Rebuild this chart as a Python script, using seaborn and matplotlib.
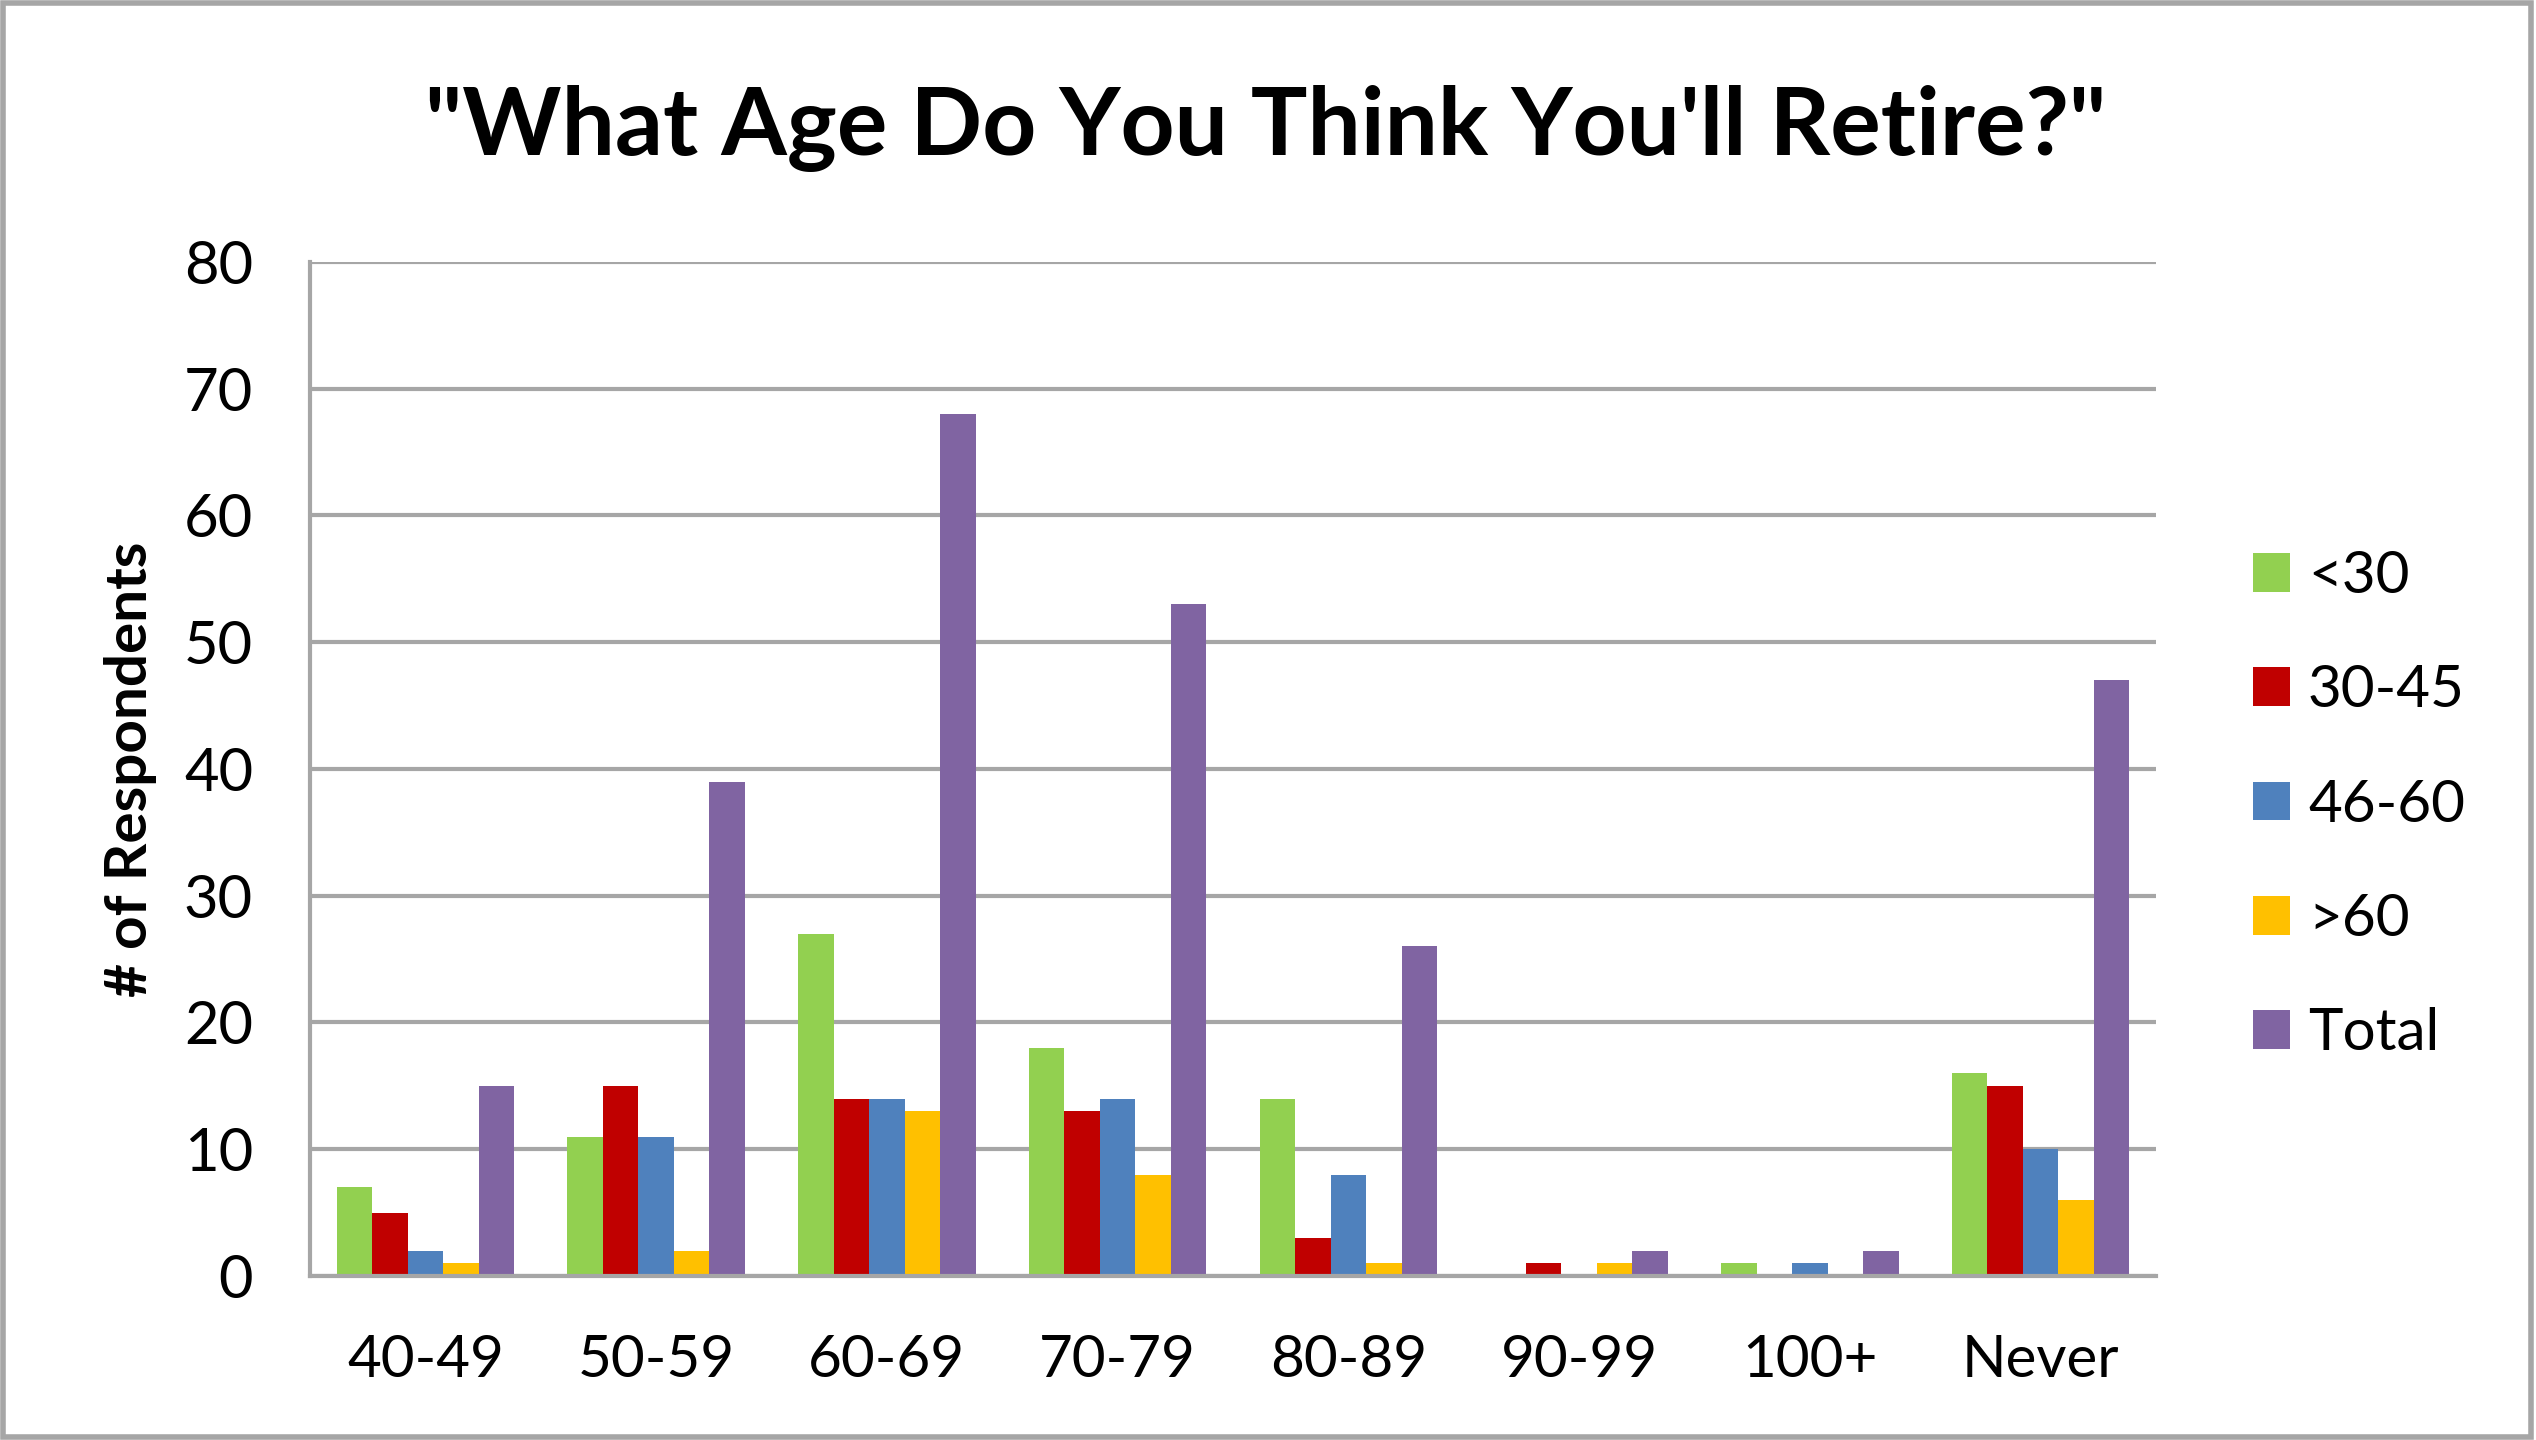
import numpy as np
import pandas as pd
import matplotlib
matplotlib.use("Agg")
import matplotlib.pyplot as plt
import seaborn as sns
from matplotlib.patches import Rectangle

categories = ["40-49", "50-59", "60-69", "70-79", "80-89", "90-99", "100+", "Never"]
series_names = ["<30", "30-45", "46-60", ">60", "Total"]
under_30 = [7, 11, 27, 18, 14, 0, 1, 16]
age_30_45 = [5, 15, 14, 13, 3, 1, 0, 15]
age_46_60 = [2, 11, 14, 14, 8, 0, 1, 10]
over_60 = [1, 2, 13, 8, 1, 1, 0, 6]
total = [15, 39, 68, 53, 26, 2, 2, 47]
colors = ["#92D050", "#C00000", "#4F81BD", "#FFC000", "#8064A2"]
yticks = [0, 10, 20, 30, 40, 50, 60, 70, 80]

rows = []
for name, vals in zip(series_names, [under_30, age_30_45, age_46_60, over_60, total]):
    for c, v in zip(categories, vals):
        rows.append({"Range": c, "Group": name, "Count": v})
df = pd.DataFrame(rows)

sns.set_theme(style="white")
plt.rcParams['font.family'] = ['Lato', 'DejaVu Sans']
plt.rcParams['text.color'] = 'black'
plt.rcParams['axes.labelcolor'] = 'black'
plt.rcParams['xtick.labelcolor'] = 'black'
plt.rcParams['ytick.labelcolor'] = 'black'

fig = plt.figure(figsize=(25.36, 14.4), dpi=100)
ax = fig.add_axes([310/2536, 1 - 1276/1440, (2156-310)/2536, (1276-262)/1440])

sns.barplot(data=df, x="Range", y="Count", hue="Group", order=categories,
            hue_order=series_names, palette=colors, width=0.77, gap=0,
            saturation=1, ax=ax, legend=True, linewidth=0)

ax.set_ylim(0, 80)
ax.set_xlim(-0.5, len(categories) - 0.5)
ax.set_yticks(yticks)
ax.set_yticklabels([str(t) for t in yticks], fontsize=43, color="black")
ax.yaxis.grid(True, color="#A6A6A6", linewidth=3)
ax.set_axisbelow(True)
ax.xaxis.grid(False)

ax.set_xticks(range(len(categories)))
ax.set_xticklabels(categories, fontsize=42, color="black")
ax.tick_params(axis="x", which="major", length=0, pad=42)
ax.set_xticks(np.arange(-0.5, len(categories)), minor=True)
ax.tick_params(axis="x", which="minor", length=24, width=3, color="#A6A6A6", direction="out")
ax.tick_params(axis="y", which="major", length=19, width=3, color="#A6A6A6", direction="out", pad=22)

for side in ["top", "right"]:
    ax.spines[side].set_visible(False)
for side in ["left", "bottom"]:
    ax.spines[side].set_color("#A6A6A6")
    ax.spines[side].set_linewidth(3)

ax.set_xlabel("")
ax.set_ylabel("# of Respondents", fontsize=42, fontweight="bold", color="black")
ax.yaxis.set_label_coords(-0.083, 0.5)

fig.suptitle("\"What Age Do You Think You'll Retire?\"", fontsize=68, fontweight="bold",
             x=1266/2536, y=1 - 128/1440, va="center", color="black")

handles, labels = ax.get_legend_handles_labels()
ax.legend(handles, labels, loc="center left", bbox_to_anchor=(2200/2536, 1 - 805/1440),
          bbox_transform=fig.transFigure, frameon=False, fontsize=42,
          handlelength=0.65, handleheight=0.65, handletextpad=0.3, labelspacing=1.05)

fig.add_artist(Rectangle((0.001, 0.002), 0.997, 0.996, transform=fig.transFigure,
                         fill=False, edgecolor="#A6A6A6", linewidth=4))

fig.savefig("out.png", dpi=100)
